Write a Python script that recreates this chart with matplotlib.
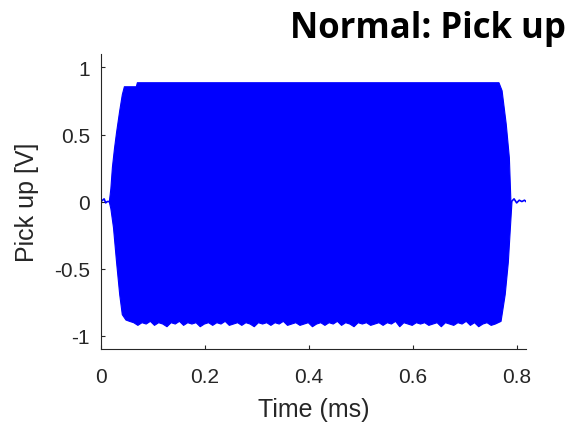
import numpy as np
import matplotlib.pyplot as plt

# envelope of pick up signal (time in ms, volts)
t_up = [0.015, 0.018, 0.021, 0.025, 0.029, 0.035, 0.040, 0.044, 0.067, 0.069,
        0.40, 0.765, 0.771, 0.779, 0.785, 0.788]
v_up = [0.0, 0.10, 0.26, 0.40, 0.52, 0.68, 0.80, 0.86, 0.86, 0.89,
        0.89, 0.89, 0.83, 0.58, 0.33, 0.0]

t_lo = [0.015, 0.018, 0.023, 0.029, 0.035, 0.040, 0.047, 0.054,
        0.062, 0.070, 0.078, 0.086, 0.094, 0.102, 0.110, 0.118, 0.126, 0.134,
        0.142, 0.150, 0.158, 0.166, 0.174, 0.182, 0.190, 0.198, 0.206, 0.214,
        0.222, 0.230, 0.238, 0.246, 0.254, 0.262, 0.270, 0.278, 0.286, 0.294,
        0.302, 0.310, 0.318, 0.326, 0.334, 0.342, 0.350, 0.358, 0.366, 0.374,
        0.382, 0.390, 0.398, 0.406, 0.414, 0.422, 0.430, 0.438, 0.446, 0.454,
        0.462, 0.470, 0.478, 0.486, 0.494, 0.502, 0.510, 0.518, 0.526, 0.534,
        0.542, 0.550, 0.558, 0.566, 0.574, 0.582, 0.590, 0.598, 0.606, 0.614,
        0.622, 0.630, 0.638, 0.646, 0.654, 0.662, 0.670, 0.678, 0.686, 0.694,
        0.702, 0.710, 0.718, 0.726, 0.734, 0.742, 0.750, 0.758,
        0.769, 0.777, 0.783, 0.787, 0.790]
v_lo = [0.0, -0.05, -0.19, -0.45, -0.69, -0.84, -0.88, -0.89,
        -0.90, -0.92, -0.90, -0.91, -0.89, -0.92, -0.90, -0.91, -0.93, -0.90,
        -0.91, -0.89, -0.92, -0.90, -0.91, -0.90, -0.93, -0.91, -0.90, -0.92,
        -0.90, -0.91, -0.89, -0.92, -0.91, -0.90, -0.92, -0.90, -0.91, -0.93,
        -0.90, -0.91, -0.90, -0.92, -0.90, -0.91, -0.89, -0.92, -0.91, -0.90,
        -0.92, -0.91, -0.90, -0.93, -0.91, -0.90, -0.92, -0.90, -0.91, -0.89,
        -0.92, -0.90, -0.91, -0.93, -0.90, -0.91, -0.90, -0.92, -0.91, -0.90,
        -0.92, -0.90, -0.91, -0.89, -0.93, -0.90, -0.91, -0.92, -0.90, -0.91,
        -0.90, -0.92, -0.91, -0.90, -0.93, -0.90, -0.91, -0.92, -0.90, -0.91,
        -0.89, -0.92, -0.90, -0.93, -0.91, -0.90, -0.92, -0.91,
        -0.89, -0.69, -0.45, -0.19, 0.0]

# quiet parts before and after the burst
t_pre = [0.0, 0.003, 0.006, 0.009, 0.012, 0.015]
v_pre = [0.0, 0.01, 0.02, -0.01, 0.0, 0.0]
t_post = [0.790, 0.795, 0.800, 0.805, 0.810, 0.815, 0.818]
v_post = [0.0, 0.02, -0.01, 0.01, 0.0, 0.01, 0.0]

grey = (0.15, 0.15, 0.15)
plt.rcParams['font.family'] = ['Liberation Sans', 'DejaVu Sans']

fig = plt.figure(figsize=(5.72, 4.27), dpi=100)
ax = fig.add_axes([0.1766, 0.1803, 0.7430, 0.6907])

t_all = np.union1d(t_up, t_lo)
up = np.interp(t_all, t_up, v_up)
lo = np.interp(t_all, t_lo, v_lo)
ax.fill_between(t_all, lo, up, color='#0000ff', lw=0.8, edgecolor='#0000ff')
ax.plot(t_pre, v_pre, color='#0000ff', lw=1.2)
ax.plot(t_post, v_post, color='#0000ff', lw=1.2)

ax.set_xlim(0, 0.818)
ax.set_ylim(-1.1, 1.1)
ax.set_xticks([0, 0.2, 0.4, 0.6, 0.8])
ax.set_xticklabels(['0', '0.2', '0.4', '0.6', '0.8'])
ax.set_yticks([-1, -0.5, 0, 0.5, 1])
ax.set_yticklabels(['-1', '-0.5', '0', '0.5', '1'])
ax.tick_params(direction='in', length=3, width=0.8, colors=grey,
               labelsize=15, pad=8)
ax.tick_params(axis='x', pad=13)
ax.spines['top'].set_visible(False)
ax.spines['right'].set_visible(False)
for s in ['left', 'bottom']:
    ax.spines[s].set_color(grey)
    ax.spines[s].set_linewidth(0.8)

ax.set_xlabel('Time (ms)', fontsize=18, color=grey, labelpad=8)
ax.set_ylabel('Pick up [V]', fontsize=18, color=grey, labelpad=11)

fig.text(0.99, 0.911, 'Normal: Pick up', ha='right', va='baseline',
         fontsize=25, fontweight='bold', family=['Open Sans', 'DejaVu Sans'])

fig.savefig('out.png', dpi=100)
